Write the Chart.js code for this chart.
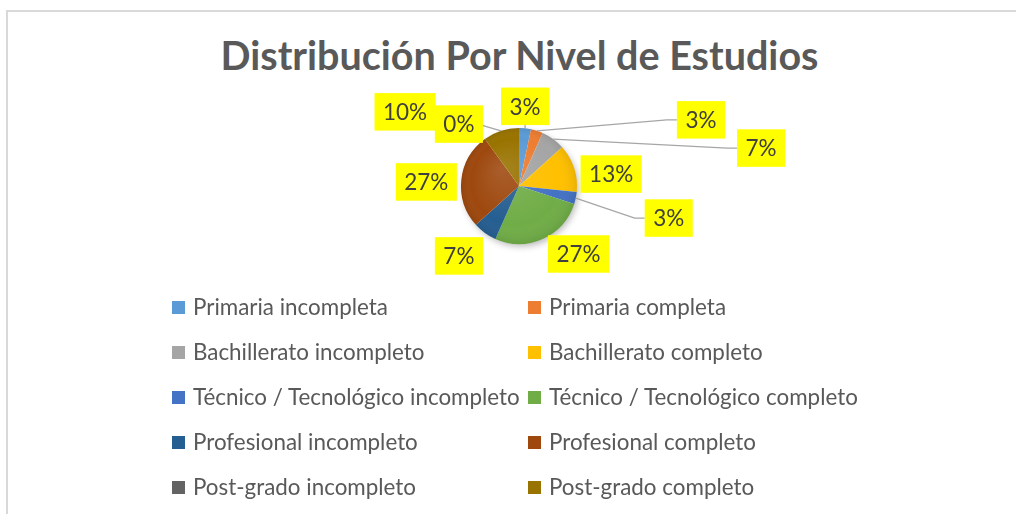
<!DOCTYPE html>
<html>
<head>
<meta charset="utf-8">
<script src="https://cdn.jsdelivr.net/npm/chart.js@4/dist/chart.umd.min.js"></script>
<style>
  body { margin: 0; background: #fff; }
  #wrap { position: relative; width: 1016px; height: 514px; overflow: hidden; font-family: Lato, 'Open Sans', sans-serif; }
  #frame { position: absolute; left: 6px; top: 10px; width: 1100px; height: 600px; border-left: 2px solid #d9d9d9; border-top: 2px solid #d9d9d9; }
  #title { position: absolute; left: 0; top: 31px; width: 1039px; text-align: center; font-weight: bold; font-size: 39.5px; color: #595959; white-space: nowrap; }
  #pie { position: absolute; left: 0; top: 0; }
  .leg { position: absolute; height: 24px; line-height: 24px; font-size: 22.4px; color: #595959; white-space: nowrap; }
  .leg i { position: absolute; left: 0; top: 6px; width: 13px; height: 13px; }
  .leg span { position: absolute; left: 21px; top: 0; }
</style>
</head>
<body>
<div id="wrap">
  <div id="frame"></div>
  <div id="title">Distribución Por Nivel de Estudios</div>
  <canvas id="pie" width="1016" height="514"></canvas>
  <div id="legend"></div>
</div>
<script>
// Data
const categories = [
    'Primaria incompleta', 'Primaria completa',
    'Bachillerato incompleto', 'Bachillerato completo',
    'Técnico / Tecnológico incompleto', 'Técnico / Tecnológico completo',
    'Profesional incompleto', 'Profesional completo',
    'Post-grado incompleto', 'Post-grado completo'
];
const counts = [1, 1, 2, 4, 1, 8, 2, 8, 0, 3];
const colors = [
    '#5B9BD5', '#ED7D31', '#A5A5A5', '#FFC000', '#4472C4',
    '#70AD47', '#255E91', '#9E480E', '#636363', '#997300'
];

// Label placement relative to the slice's outer midpoint (px), and leader style
const labelShift = [
    [0, -22], [164, -11], [208, 9], [37, 6], [93, 20],
    [36, 15], [-26, 23], [-35, 2], [-26, -15], [-96, -19]
];
const leaderType = ['below', 'elbow', 'elbow', null, 'elbow', null, null, null, null, 'side'];

// Legend (two columns)
const legend = document.getElementById('legend');
const colX = [172, 528];
const rowY = [295, 340, 385, 430, 475];
categories.forEach((name, i) => {
    const div = document.createElement('div');
    div.className = 'leg';
    div.style.left = colX[i % 2] + 'px';
    div.style.top = rowY[Math.floor(i / 2)] + 'px';
    div.innerHTML = '<i style="background:' + colors[i] + '"></i><span>' + name + '</span>';
    legend.appendChild(div);
});

const total = counts.reduce((a, b) => a + b, 0);

// Shadow + soft shading for the pie
const pieShade = {
    id: 'pieShade',
    beforeDatasetsDraw(chart) {
        const arc = chart.getDatasetMeta(0).data[0];
        const { x, y, outerRadius } = arc.getProps(['x', 'y', 'outerRadius'], true);
        const ctx = chart.ctx;
        ctx.save();
        ctx.shadowColor = 'rgba(0,0,0,0.3)';
        ctx.shadowBlur = 7;
        ctx.shadowOffsetX = 2;
        ctx.shadowOffsetY = 3;
        ctx.fillStyle = '#fff';
        ctx.beginPath();
        ctx.arc(x, y, outerRadius - 1, 0, Math.PI * 2);
        ctx.fill();
        ctx.restore();
    },
    afterDatasetsDraw(chart) {
        const arc = chart.getDatasetMeta(0).data[0];
        const { x, y, outerRadius } = arc.getProps(['x', 'y', 'outerRadius'], true);
        const ctx = chart.ctx;
        const g = ctx.createRadialGradient(x - outerRadius * 0.3, y - outerRadius * 0.3, 0, x, y, outerRadius);
        g.addColorStop(0, 'rgba(255,255,255,0.12)');
        g.addColorStop(0.75, 'rgba(255,255,255,0)');
        g.addColorStop(1, 'rgba(0,0,0,0.08)');
        ctx.save();
        ctx.fillStyle = g;
        ctx.beginPath();
        ctx.arc(x, y, outerRadius, 0, Math.PI * 2);
        ctx.fill();
        ctx.restore();
    }
};

// Percentage labels in yellow boxes with leader lines
const pieLabels = {
    id: 'pieLabels',
    afterDatasetsDraw(chart) {
        const ctx = chart.ctx;
        const arcs = chart.getDatasetMeta(0).data;
        ctx.save();
        ctx.font = '22.5px Lato, "Open Sans", sans-serif';
        const boxes = arcs.map((arc, i) => {
            const p = arc.getProps(['x', 'y', 'startAngle', 'endAngle', 'outerRadius'], true);
            const mid = (p.startAngle + p.endAngle) / 2;
            const ax = p.x + Math.cos(mid) * p.outerRadius;
            const ay = p.y + Math.sin(mid) * p.outerRadius;
            const text = Math.round(counts[i] / total * 100) + '%';
            const w = ctx.measureText(text).width + 17;
            const h = 37.5;
            const cx = ax + labelShift[i][0];
            const cy = ay + labelShift[i][1];
            return { ax, ay, cx, cy, w, h, text };
        });
        // leader lines first, boxes drawn over them
        ctx.strokeStyle = '#a6a6a6';
        ctx.lineWidth = 1.3;
        boxes.forEach((b, i) => {
            const t = leaderType[i];
            if (!t) return;
            ctx.beginPath();
            if (t === 'elbow') {
                const left = b.cx - b.w / 2;
                ctx.moveTo(b.ax, b.ay);
                ctx.lineTo(left - 10, b.cy);
                ctx.lineTo(left, b.cy);
            } else if (t === 'side') {
                ctx.moveTo(b.cx + b.w / 2, b.cy);
                ctx.lineTo(b.ax, b.ay);
            } else {
                ctx.moveTo(b.ax, b.cy + b.h / 2);
                ctx.lineTo(b.ax, b.ay);
            }
            ctx.stroke();
        });
        ctx.textAlign = 'center';
        ctx.textBaseline = 'middle';
        boxes.forEach(b => {
            ctx.fillStyle = '#ffff00';
            ctx.fillRect(b.cx - b.w / 2, b.cy - b.h / 2, b.w, b.h);
            ctx.fillStyle = '#404040';
            ctx.fillText(b.text, b.cx, b.cy + 1);
        });
        ctx.restore();
    }
};

const ctx = document.getElementById('pie').getContext('2d');
new Chart(ctx, {
    type: 'pie',
    data: {
        labels: categories,
        datasets: [{
            data: counts,
            backgroundColor: colors,
            borderWidth: 0,
        }],
    },
    options: {
        responsive: false,
        animation: false,
        layout: {
            padding: { left: 22, right: 0, top: 128, bottom: 270 }
        },
        plugins: {
            legend: { display: false },
            tooltip: { enabled: false },
        },
    },
    plugins: [pieShade, pieLabels],
});
</script>
</body>
</html>
